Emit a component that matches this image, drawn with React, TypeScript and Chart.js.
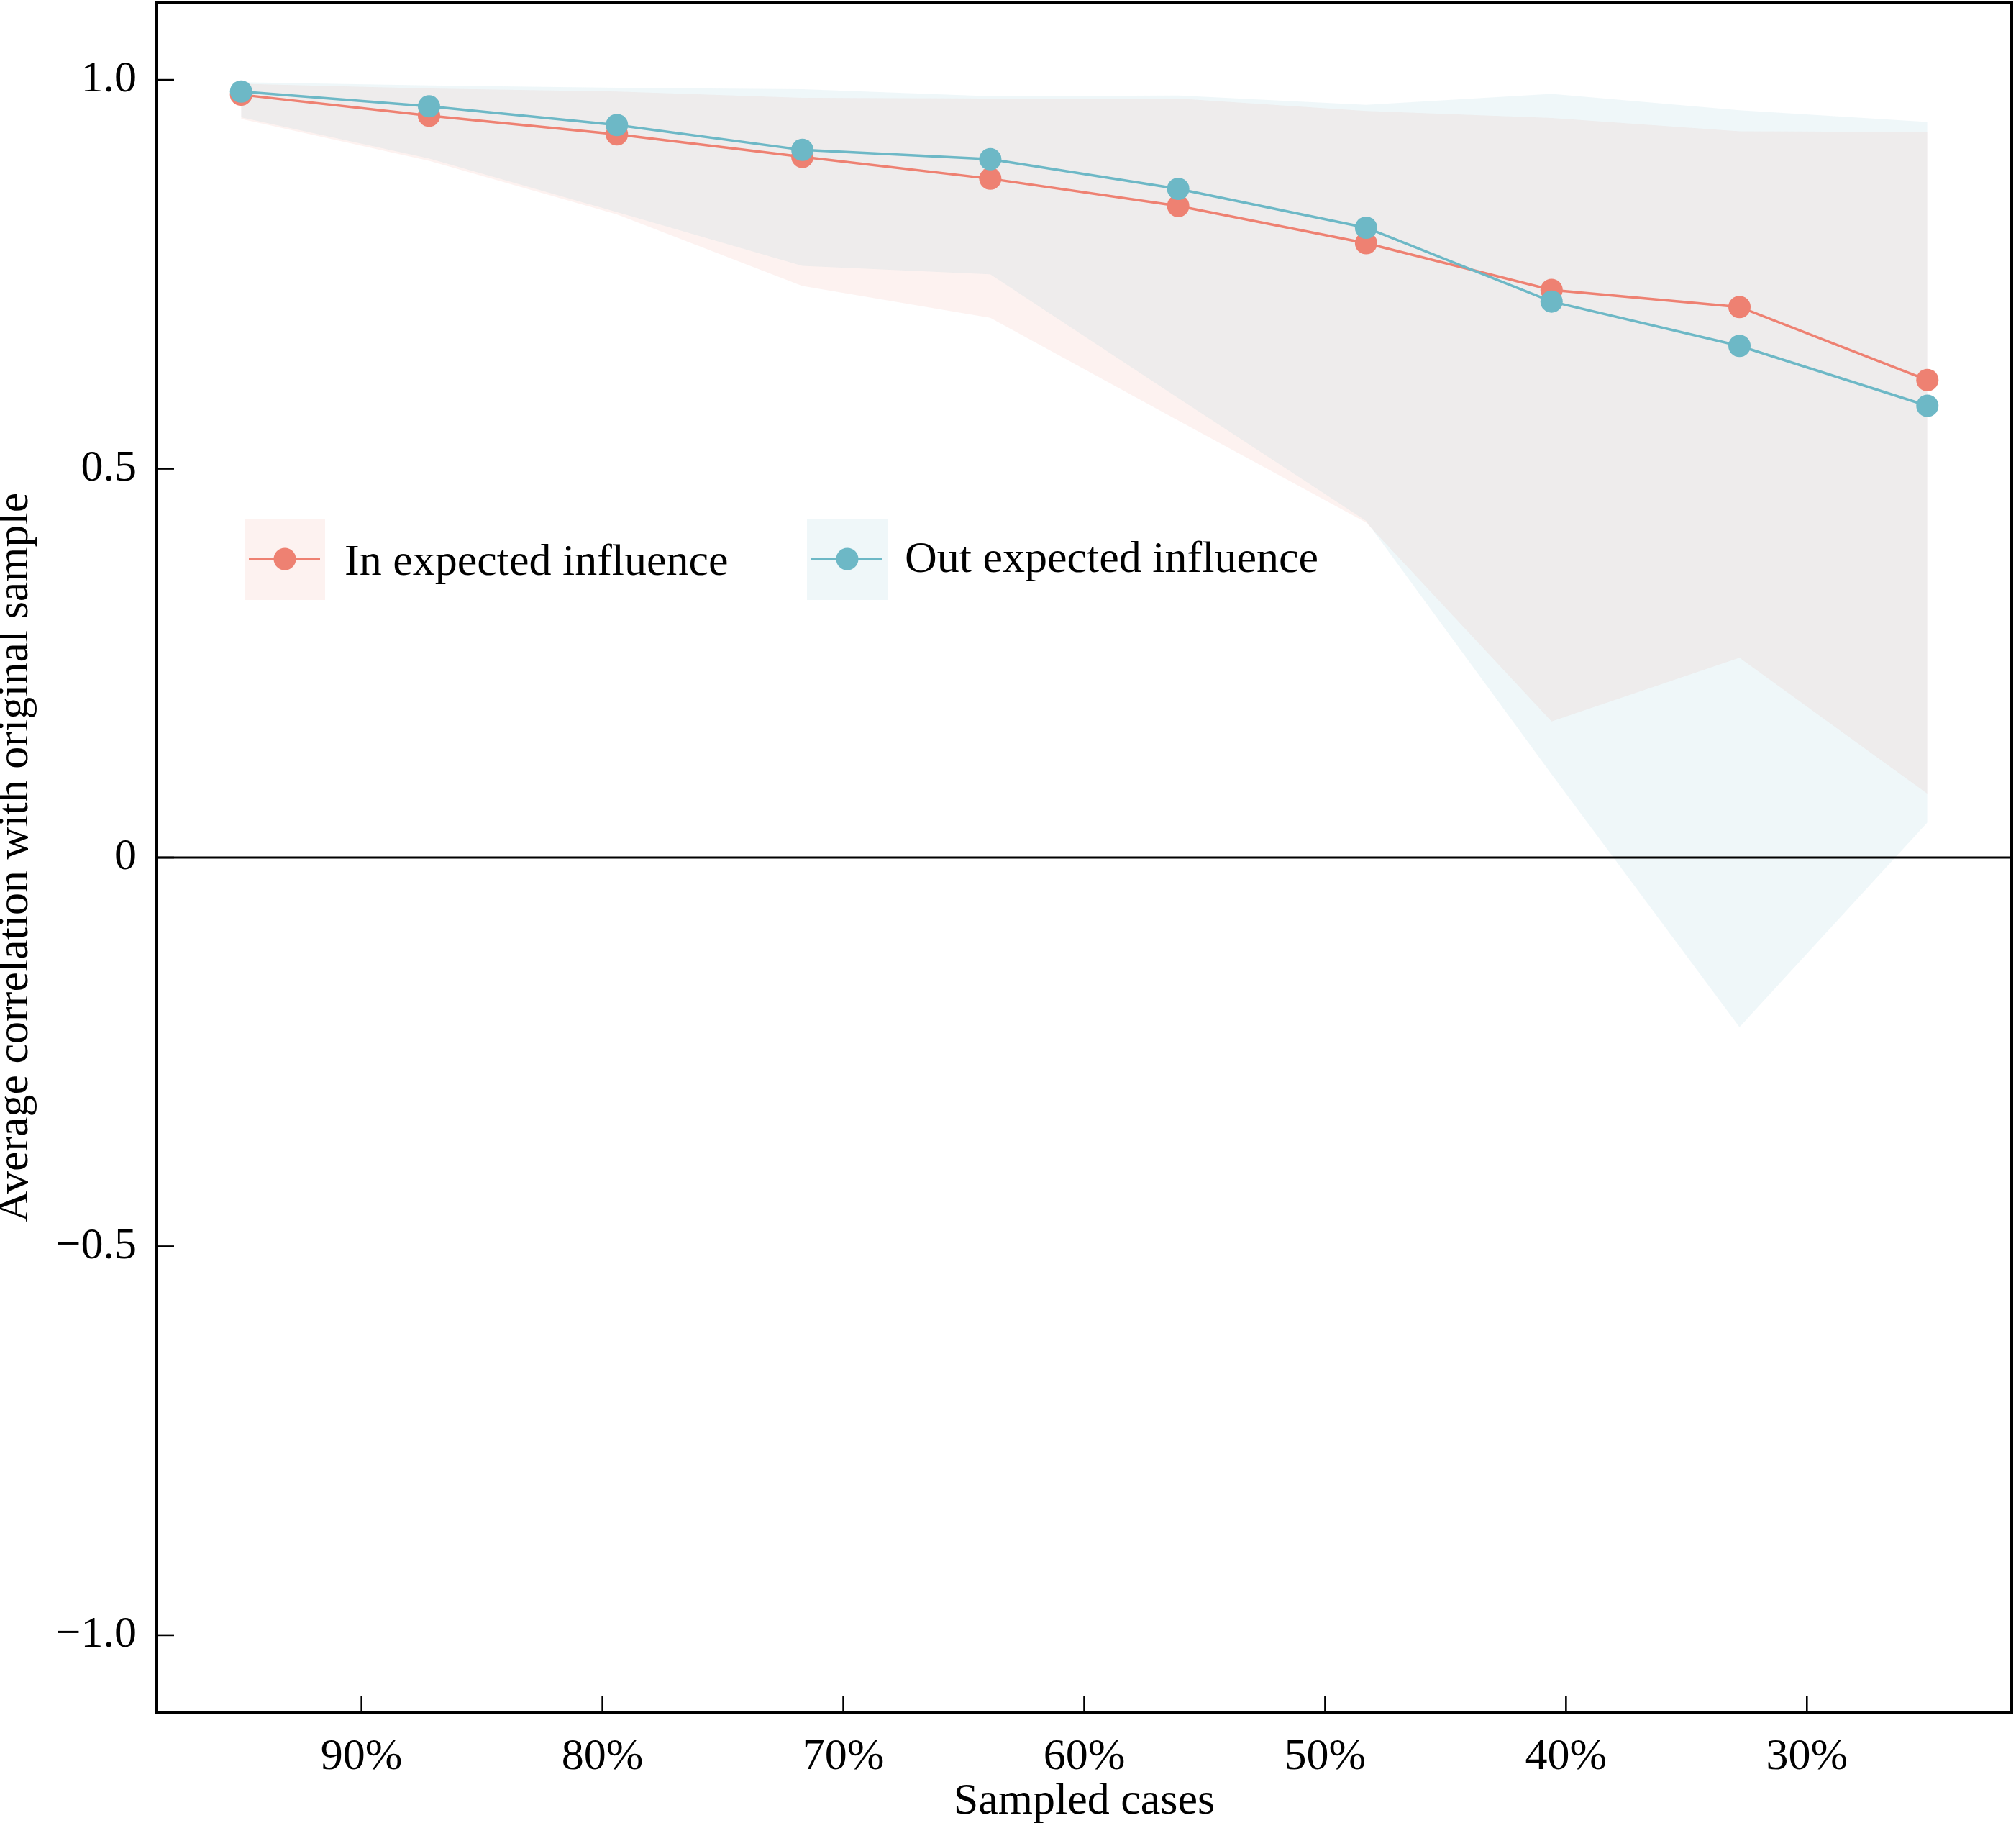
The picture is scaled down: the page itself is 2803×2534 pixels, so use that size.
import { useEffect, useRef } from 'react';
import { Chart, registerables } from 'chart.js';

Chart.register(...registerables);

// ---------- data ----------
const sampledPct = [95, 87.2, 79.4, 71.7, 63.9, 56.1, 48.3, 40.6, 32.8, 25];
const inExpected = [0.981, 0.954, 0.930, 0.901, 0.873, 0.838, 0.790, 0.730, 0.708, 0.614];
const outExpected = [0.985, 0.966, 0.942, 0.910, 0.898, 0.860, 0.810, 0.715, 0.658, 0.581];
const inUpper = [0.995, 0.989, 0.985, 0.977, 0.976, 0.976, 0.960, 0.951, 0.934, 0.933];
const inLower = [0.950, 0.896, 0.827, 0.735, 0.694, 0.562, 0.431, 0.175, 0.257, 0.082];
const outUpper = [0.997, 0.993, 0.990, 0.988, 0.979, 0.980, 0.968, 0.982, 0.961, 0.946];
const outLower = [0.952, 0.899, 0.830, 0.761, 0.750, 0.591, 0.433, 0.107, -0.218, 0.045];

const xTickValues = [90, 80, 70, 60, 50, 40, 30];
const xTickLabels = ['90%', '80%', '70%', '60%', '50%', '40%', '30%'];
const yTickValues = [-1, -0.5, 0, 0.5, 1];
const yTickLabels = ['\u22121.0', '\u22120.5', '0', '0.5', '1.0'];
const seriesLabels = ['In expected influence', 'Out expected influence'];
const xTitle = 'Sampled cases';
const yTitle = 'Average correlation with original sample';

// ---------- style ----------
const RED = '#EE8172';
const BLUE = '#6DB8C6';
const RED_BAND = 'rgba(235,140,115,0.11)';
const BLUE_BAND = 'rgba(110,184,198,0.11)';
const FONT_FAMILY = '"Liberation Serif", "Times New Roman", serif';
const FONT_SIZE = 62;

const W = 2803;
const H = 2534;

const toPoints = (ys: number[]) => sampledPct.map((x, i) => ({ x, y: ys[i] }));

const framePlugin = {
  id: 'frameAndLegend',
  afterDatasetsDraw(chart: any) {
    const { ctx, chartArea: a, scales } = chart;
    const xs = scales.x;
    const ys = scales.y;
    const seg = (x1: number, y1: number, x2: number, y2: number) => {
      ctx.beginPath();
      ctx.moveTo(x1, y1);
      ctx.lineTo(x2, y2);
      ctx.stroke();
    };
    ctx.save();
    ctx.strokeStyle = '#000';
    // zero line
    ctx.lineWidth = 3;
    const y0 = ys.getPixelForValue(0);
    seg(a.left, y0, a.right, y0);
    // inward ticks
    ctx.lineWidth = 2.6;
    ys.ticks.forEach((t: any) => {
      const py = ys.getPixelForValue(t.value);
      seg(a.left, py, a.left + 24, py);
    });
    xs.ticks.forEach((t: any) => {
      const px = xs.getPixelForValue(t.value);
      seg(px, a.bottom, px, a.bottom - 24);
    });
    // frame
    ctx.lineWidth = 4;
    ctx.strokeRect(a.left, a.top, a.right - a.left, a.bottom - a.top);

    // legend (inside plot)
    const items = [
      { label: seriesLabels[0], color: RED, band: RED_BAND, box: 340, text: 479, baseline: 799 },
      { label: seriesLabels[1], color: BLUE, band: BLUE_BAND, box: 1122, text: 1258, baseline: 795 },
    ];
    const boxTop = 721;
    const boxW = 112;
    const boxH = 113;
    const cy = 777;
    ctx.font = `${FONT_SIZE}px ${FONT_FAMILY}`;
    ctx.textBaseline = 'alphabetic';
    ctx.textAlign = 'left';
    items.forEach((it) => {
      ctx.fillStyle = it.band;
      ctx.fillRect(it.box, boxTop, boxW, boxH);
      ctx.strokeStyle = it.color;
      ctx.lineWidth = 4;
      seg(it.box + 6, cy, it.box + boxW - 7, cy);
      ctx.fillStyle = it.color;
      ctx.beginPath();
      ctx.arc(it.box + boxW / 2, cy, 15.5, 0, Math.PI * 2);
      ctx.fill();
      ctx.fillStyle = '#000';
      ctx.fillText(it.label, it.text, it.baseline);
    });
    ctx.restore();
  },
};

export default function App() {
  const canvasRef = useRef<HTMLCanvasElement | null>(null);

  useEffect(() => {
    document.body.style.margin = '0';
    document.body.style.overflow = 'hidden';
    const canvas = canvasRef.current;
    if (!canvas) return;
    const font = { family: FONT_FAMILY, size: FONT_SIZE };
    const band = (ys: number[], color: string, fillTarget: number | false, order: number) => ({
      data: toPoints(ys),
      borderWidth: 0,
      borderColor: 'rgba(0,0,0,0)',
      backgroundColor: color,
      pointRadius: 0,
      pointHoverRadius: 0,
      fill: fillTarget === false ? false : fillTarget,
      order,
      tension: 0,
    });
    const chart = new Chart(canvas, {
      type: 'line',
      data: {
        datasets: [
          {
            label: seriesLabels[1],
            data: toPoints(outExpected),
            borderColor: BLUE,
            backgroundColor: BLUE,
            borderWidth: 3.5,
            pointRadius: 15.5,
            pointHoverRadius: 15.5,
            pointBorderWidth: 0,
            pointBackgroundColor: BLUE,
            fill: false,
            order: 0,
            tension: 0,
          },
          {
            label: seriesLabels[0],
            data: toPoints(inExpected),
            borderColor: RED,
            backgroundColor: RED,
            borderWidth: 3.5,
            pointRadius: 15.5,
            pointHoverRadius: 15.5,
            pointBorderWidth: 0,
            pointBackgroundColor: RED,
            fill: false,
            order: 1,
            tension: 0,
          },
          band(inUpper, RED_BAND, 3, 3),
          band(inLower, RED_BAND, false, 3),
          band(outUpper, BLUE_BAND, 5, 2),
          band(outLower, BLUE_BAND, false, 2),
        ] as any,
      },
      options: {
        animation: false,
        responsive: false,
        devicePixelRatio: 1,
        layout: { autoPadding: false, padding: { top: 3, right: 6, left: 0, bottom: 0 } },
        plugins: {
          legend: { display: false },
          tooltip: { enabled: false },
        },
        events: [],
        scales: {
          x: {
            type: 'linear',
            reverse: true,
            min: 21.5,
            max: 98.5,
            grid: { display: false, drawTicks: false },
            border: { display: false },
            afterBuildTicks: (s: any) => {
              s.ticks = xTickValues.map((v) => ({ value: v }));
            },
            afterFit: (s: any) => {
              s.height = H - 2381;
              s.paddingLeft = 0;
              s.paddingRight = 0;
              s.paddingTop = 0;
              s.paddingBottom = 0;
            },
            ticks: {
              font,
              color: '#000',
              padding: 25,
              maxRotation: 0,
              autoSkip: false,
              callback: (v: any) => xTickLabels[xTickValues.indexOf(Number(v))],
            },
            title: {
              display: true,
              text: xTitle,
              color: '#000',
              font: { ...font, lineHeight: 0.9 },
              padding: { top: 0, bottom: 1 },
            },
          },
          y: {
            type: 'linear',
            min: -1.1,
            max: 1.1,
            grid: { display: false, drawTicks: false },
            border: { display: false },
            afterBuildTicks: (s: any) => {
              s.ticks = yTickValues.map((v) => ({ value: v }));
            },
            afterFit: (s: any) => {
              s.width = 218;
              s.paddingTop = 0;
              s.paddingBottom = 0;
              s.paddingLeft = 0;
              s.paddingRight = 0;
            },
            ticks: {
              font,
              color: '#000',
              padding: 28,
              autoSkip: false,
              callback: (v: any) => yTickLabels[yTickValues.indexOf(Number(v))],
            },
            title: {
              display: true,
              text: yTitle,
              color: '#000',
              font: { ...font, lineHeight: 0.7 },
              padding: { top: 0, bottom: 0 },
            },
          },
        },
      } as any,
      plugins: [framePlugin],
    });
    return () => chart.destroy();
  }, []);

  return (
    <div style={{ position: 'absolute', left: 0, top: 0, width: W, height: H, background: '#fff' }}>
      <canvas ref={canvasRef} width={W} height={H} style={{ width: W, height: H, display: 'block' }} />
    </div>
  );
}
